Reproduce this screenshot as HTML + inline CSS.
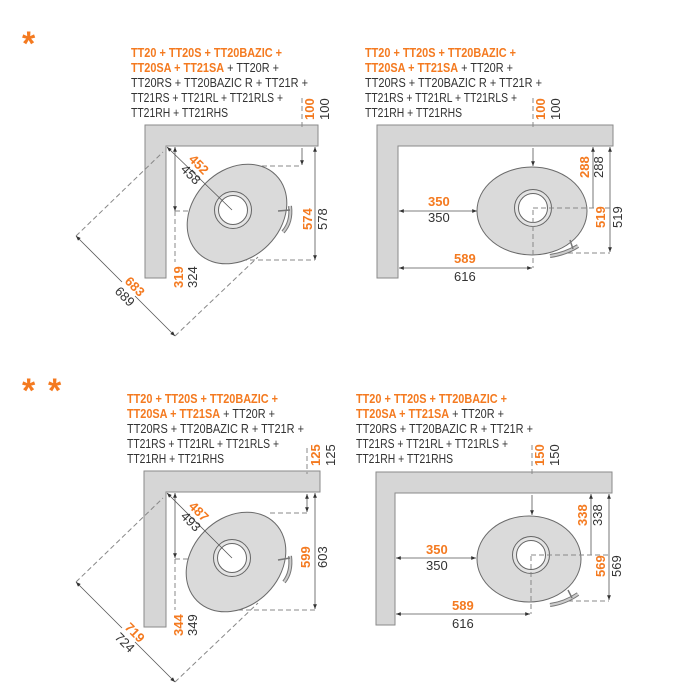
<!DOCTYPE html>
<html><head><meta charset="utf-8"><style>
html,body{margin:0;padding:0;background:#fff}
svg{display:block}
text{font-family:"Liberation Sans",sans-serif;font-size:12.5px}
.o{fill:#f47a20;font-weight:bold}
.k{fill:#333}
.w{fill:#d6d6d6;stroke:#8a8a8a;stroke-width:1}
.el{fill:#dadada;stroke:#6a6a6a;stroke-width:1}
.d{stroke:#888;stroke-width:1;stroke-dasharray:5,3;fill:none}
.l{stroke:#555;stroke-width:0.8;fill:none}
.lab{font-size:13px}
</style></head><body>
<svg width="700" height="700" viewBox="0 0 700 700" xmlns="http://www.w3.org/2000/svg">
<defs>
<marker id="a" viewBox="0 0 10 10" refX="10" refY="5" markerWidth="6" markerHeight="6" orient="auto-start-reverse"><path d="M0,1 L10,5 L0,9 z" fill="#333"/></marker>
</defs>

<text x="22" y="55" class="o" style="font-size:34px">*</text>
<text x="22" y="402" class="o" style="font-size:34px">*</text>
<text x="48" y="402" class="o" style="font-size:34px">*</text>

<!-- ===== TOP LEFT ===== -->
<g>
<text x="131" y="57"><tspan class="o" textLength="151" lengthAdjust="spacingAndGlyphs">TT20 + TT20S + TT20BAZIC +</tspan></text>
<text x="131" y="72" textLength="148" lengthAdjust="spacingAndGlyphs"><tspan class="o">TT20SA + TT21SA</tspan><tspan class="k"> + TT20R +</tspan></text>
<text x="131" y="87" class="k" textLength="177" lengthAdjust="spacingAndGlyphs">TT20RS + TT20BAZIC R + TT21R +</text>
<text x="131" y="102" class="k" textLength="152" lengthAdjust="spacingAndGlyphs">TT21RS + TT21RL + TT21RLS +</text>
<text x="131" y="117" class="k" textLength="97" lengthAdjust="spacingAndGlyphs">TT21RH + TT21RHS</text>

<path class="w" d="M145,125 H318 V146 H166 V278 H145 Z"/>
<line class="d" x1="262" y1="166" x2="302" y2="166"/>
<line class="d" x1="302" y1="98" x2="302" y2="128"/>
<line class="l" x1="302" y1="148" x2="302" y2="165" marker-end="url(#a)"/>
<line class="l" x1="315" y1="147" x2="315" y2="260" marker-start="url(#a)" marker-end="url(#a)"/>
<line class="d" x1="210" y1="260" x2="315" y2="260"/>
<line class="l" x1="175" y1="147" x2="175" y2="211" marker-start="url(#a)" marker-end="url(#a)"/>
<line class="d" x1="175" y1="211" x2="232" y2="211"/>
<line class="d" x1="175" y1="211" x2="175" y2="262"/>
<line class="d" x1="76" y1="236" x2="163" y2="152"/>
<line class="d" x1="175" y1="336" x2="258" y2="257"/>
<line class="l" x1="76" y1="236" x2="122" y2="282" marker-start="url(#a)"/>
<line class="l" x1="135" y1="296" x2="175" y2="336" marker-end="url(#a)"/>

<ellipse class="el" cx="237" cy="214" rx="55" ry="44" transform="rotate(-45 237 214)"/>
<circle cx="233" cy="210" r="18.5" fill="#e4e4e4" stroke="#666"/>
<circle cx="233" cy="210" r="14.5" fill="#fff" stroke="#666"/>
<line class="l" x1="167" y1="147" x2="232" y2="210" marker-start="url(#a)"/>
<path d="M283,232 Q292,222 290,206" fill="none" stroke="#777" stroke-width="4"/>
<path d="M283,232 Q292,222 290,206" fill="none" stroke="#ccc" stroke-width="2"/>
<line x1="278" y1="211" x2="290" y2="210" stroke="#777" stroke-width="1.5"/>

<text class="o lab" transform="translate(314,120) rotate(-90)">100</text>
<text class="k lab" transform="translate(329,120) rotate(-90)">100</text>
<text class="o lab" transform="translate(312,230) rotate(-90)">574</text>
<text class="k lab" transform="translate(327,230) rotate(-90)">578</text>
<text class="o lab" transform="translate(183,288) rotate(-90)">319</text>
<text class="k lab" transform="translate(197,288) rotate(-90)">324</text>
<text class="o lab" transform="translate(188,160) rotate(45)">452</text>
<text class="k lab" transform="translate(180,170) rotate(45)">458</text>
<text class="o lab" transform="translate(124,282) rotate(45)">683</text>
<text class="k lab" transform="translate(114,292) rotate(45)">689</text>
</g>

<!-- ===== TOP RIGHT ===== -->
<g>
<text x="365" y="57"><tspan class="o" textLength="151" lengthAdjust="spacingAndGlyphs">TT20 + TT20S + TT20BAZIC +</tspan></text>
<text x="365" y="72" textLength="148" lengthAdjust="spacingAndGlyphs"><tspan class="o">TT20SA + TT21SA</tspan><tspan class="k"> + TT20R +</tspan></text>
<text x="365" y="87" class="k" textLength="177" lengthAdjust="spacingAndGlyphs">TT20RS + TT20BAZIC R + TT21R +</text>
<text x="365" y="102" class="k" textLength="152" lengthAdjust="spacingAndGlyphs">TT21RS + TT21RL + TT21RLS +</text>
<text x="365" y="117" class="k" textLength="97" lengthAdjust="spacingAndGlyphs">TT21RH + TT21RHS</text>

<path class="w" d="M377,125 H613 V146 H398 V278 H377 Z"/>
<line class="d" x1="533" y1="98" x2="533" y2="128"/>
<line class="l" x1="533" y1="148" x2="533" y2="166" marker-end="url(#a)"/>
<line class="l" x1="593" y1="147" x2="593" y2="208" marker-start="url(#a)"/>
<line class="l" x1="610" y1="147" x2="610" y2="252" marker-start="url(#a)" marker-end="url(#a)"/>
<line class="d" x1="560" y1="253" x2="610" y2="253"/>
<line class="l" x1="399" y1="211" x2="477" y2="211" marker-start="url(#a)" marker-end="url(#a)"/>
<line class="l" x1="399" y1="268" x2="532" y2="268" marker-start="url(#a)" marker-end="url(#a)"/>

<ellipse class="el" cx="532" cy="211" rx="55" ry="44"/>
<circle cx="533" cy="208" r="18.5" fill="#e4e4e4" stroke="#666"/>
<circle cx="533" cy="208" r="14.5" fill="#fff" stroke="#666"/>
<line class="d" x1="533" y1="208" x2="610" y2="208"/>
<line class="d" x1="533" y1="210" x2="533" y2="268"/>
<path d="M550,256 Q565,254 578,246" fill="none" stroke="#777" stroke-width="4"/>
<path d="M550,256 Q565,254 578,246" fill="none" stroke="#ccc" stroke-width="2"/>
<line x1="570" y1="240" x2="573" y2="249" stroke="#777" stroke-width="1.5"/>

<text class="o lab" transform="translate(545,120) rotate(-90)">100</text>
<text class="k lab" transform="translate(560,120) rotate(-90)">100</text>
<text class="o lab" transform="translate(589,178) rotate(-90)">288</text>
<text class="k lab" transform="translate(603,178) rotate(-90)">288</text>
<text class="o lab" transform="translate(605,228) rotate(-90)">519</text>
<text class="k lab" transform="translate(622,228) rotate(-90)">519</text>
<text class="o lab" x="428" y="206">350</text>
<text class="k lab" x="428" y="222">350</text>
<text class="o lab" x="454" y="263">589</text>
<text class="k lab" x="454" y="281">616</text>
</g>

<!-- ===== BOTTOM LEFT ===== -->
<g>
<text x="127" y="403"><tspan class="o" textLength="151" lengthAdjust="spacingAndGlyphs">TT20 + TT20S + TT20BAZIC +</tspan></text>
<text x="127" y="418" textLength="148" lengthAdjust="spacingAndGlyphs"><tspan class="o">TT20SA + TT21SA</tspan><tspan class="k"> + TT20R +</tspan></text>
<text x="127" y="433" class="k" textLength="177" lengthAdjust="spacingAndGlyphs">TT20RS + TT20BAZIC R + TT21R +</text>
<text x="127" y="448" class="k" textLength="152" lengthAdjust="spacingAndGlyphs">TT21RS + TT21RL + TT21RLS +</text>
<text x="127" y="463" class="k" textLength="97" lengthAdjust="spacingAndGlyphs">TT21RH + TT21RHS</text>

<path class="w" d="M144,471 H320 V492 H166 V627 H144 Z"/>
<line class="d" x1="270" y1="513" x2="307" y2="513"/>
<line class="d" x1="307" y1="448" x2="307" y2="474"/>
<line class="l" x1="307" y1="494" x2="307" y2="512" marker-start="url(#a)" marker-end="url(#a)"/>
<line class="l" x1="315" y1="493" x2="315" y2="609" marker-start="url(#a)" marker-end="url(#a)"/>
<line class="d" x1="230" y1="610" x2="315" y2="610"/>
<line class="l" x1="175" y1="493" x2="175" y2="558" marker-start="url(#a)" marker-end="url(#a)"/>
<line class="d" x1="175" y1="559" x2="232" y2="559"/>
<line class="d" x1="175" y1="559" x2="175" y2="610"/>
<line class="d" x1="76" y1="582" x2="163" y2="498"/>
<line class="d" x1="175" y1="682" x2="258" y2="603"/>
<line class="l" x1="76" y1="582" x2="122" y2="628" marker-start="url(#a)"/>
<line class="l" x1="135" y1="642" x2="175" y2="682" marker-end="url(#a)"/>

<ellipse class="el" cx="236" cy="562" rx="55" ry="44" transform="rotate(-45 236 562)"/>
<circle cx="232" cy="558" r="18.5" fill="#e4e4e4" stroke="#666"/>
<circle cx="232" cy="558" r="14.5" fill="#fff" stroke="#666"/>
<line class="l" x1="167" y1="493" x2="232" y2="558" marker-start="url(#a)"/>
<path d="M284,582 Q292,572 290,556" fill="none" stroke="#777" stroke-width="4"/>
<path d="M284,582 Q292,572 290,556" fill="none" stroke="#ccc" stroke-width="2"/>
<line x1="278" y1="560" x2="290" y2="558" stroke="#777" stroke-width="1.5"/>

<text class="o lab" transform="translate(320,466) rotate(-90)">125</text>
<text class="k lab" transform="translate(335,466) rotate(-90)">125</text>
<text class="o lab" transform="translate(310,568) rotate(-90)">599</text>
<text class="k lab" transform="translate(327,568) rotate(-90)">603</text>
<text class="o lab" transform="translate(183,636) rotate(-90)">344</text>
<text class="k lab" transform="translate(197,636) rotate(-90)">349</text>
<text class="o lab" transform="translate(188,507) rotate(45)">487</text>
<text class="k lab" transform="translate(180,517) rotate(45)">493</text>
<text class="o lab" transform="translate(124,628) rotate(45)">719</text>
<text class="k lab" transform="translate(114,638) rotate(45)">724</text>
</g>

<!-- ===== BOTTOM RIGHT ===== -->
<g>
<text x="356" y="403"><tspan class="o" textLength="151" lengthAdjust="spacingAndGlyphs">TT20 + TT20S + TT20BAZIC +</tspan></text>
<text x="356" y="418" textLength="148" lengthAdjust="spacingAndGlyphs"><tspan class="o">TT20SA + TT21SA</tspan><tspan class="k"> + TT20R +</tspan></text>
<text x="356" y="433" class="k" textLength="177" lengthAdjust="spacingAndGlyphs">TT20RS + TT20BAZIC R + TT21R +</text>
<text x="356" y="448" class="k" textLength="152" lengthAdjust="spacingAndGlyphs">TT21RS + TT21RL + TT21RLS +</text>
<text x="356" y="463" class="k" textLength="97" lengthAdjust="spacingAndGlyphs">TT21RH + TT21RHS</text>

<path class="w" d="M376,472 H612 V493 H395 V625 H376 Z"/>
<line class="d" x1="532" y1="445" x2="532" y2="475"/>
<line class="l" x1="532" y1="495" x2="532" y2="515" marker-end="url(#a)"/>
<line class="l" x1="591" y1="494" x2="591" y2="555" marker-start="url(#a)"/>
<line class="l" x1="609" y1="494" x2="609" y2="600" marker-start="url(#a)" marker-end="url(#a)"/>
<line class="d" x1="560" y1="601" x2="609" y2="601"/>
<line class="l" x1="396" y1="558" x2="476" y2="558" marker-start="url(#a)" marker-end="url(#a)"/>
<line class="l" x1="396" y1="614" x2="530" y2="614" marker-start="url(#a)" marker-end="url(#a)"/>

<ellipse class="el" cx="529" cy="559" rx="52" ry="43"/>
<circle cx="531" cy="555" r="18.5" fill="#e4e4e4" stroke="#666"/>
<circle cx="531" cy="555" r="14.5" fill="#fff" stroke="#666"/>
<line class="d" x1="531" y1="555" x2="609" y2="555"/>
<line class="d" x1="531" y1="556" x2="531" y2="614"/>
<path d="M550,605 Q565,603 578,594" fill="none" stroke="#777" stroke-width="4"/>
<path d="M550,605 Q565,603 578,594" fill="none" stroke="#ccc" stroke-width="2"/>
<line x1="568" y1="590" x2="572" y2="598" stroke="#777" stroke-width="1.5"/>

<text class="o lab" transform="translate(544,466) rotate(-90)">150</text>
<text class="k lab" transform="translate(559,466) rotate(-90)">150</text>
<text class="o lab" transform="translate(587,526) rotate(-90)">338</text>
<text class="k lab" transform="translate(602,526) rotate(-90)">338</text>
<text class="o lab" transform="translate(605,577) rotate(-90)">569</text>
<text class="k lab" transform="translate(621,577) rotate(-90)">569</text>
<text class="o lab" x="426" y="554">350</text>
<text class="k lab" x="426" y="570">350</text>
<text class="o lab" x="452" y="610">589</text>
<text class="k lab" x="452" y="628">616</text>
</g>
</svg>
</body></html>
